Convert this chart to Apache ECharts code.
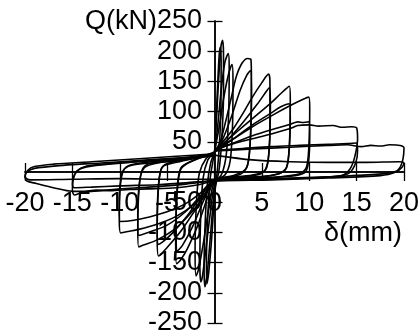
<!DOCTYPE html>
<html><head><meta charset="utf-8">
<script src="https://cdn.jsdelivr.net/npm/echarts@6/dist/echarts.min.js"></script>
<style>html,body{margin:0;padding:0;background:#fff}#c{width:419px;height:335px}</style>
</head><body><div id="c"></div>
<script>
const xTicks = [-20,-15,-10,-5,0,5,10,15,20];
const yTicks = [-250,-200,-150,-100,-50,0,50,100,150,200,250];
const xName = 'δ(mm)';
const yName = 'Q(kN)';

const c1 = [[0,30],[0.15,80],[0.35,150],[0.5,195],[0.62,207],[0.7,180],[0.68,110],[0.5,40],[0.25,-5],[0,-40],[-0.3,-110],[-0.6,-165],[-0.8,-185],[-0.85,-150],[-0.7,-70],[-0.45,-10],[-0.2,15],[0,30]];
const c2 = [[0,30],[0.25,100],[0.5,170],[0.7,210],[0.85,218],[0.95,195],[0.95,130],[0.75,50],[0.45,0],[0,-30],[-0.4,-100],[-0.75,-165],[-1.0,-190],[-1.1,-160],[-1.0,-90],[-0.75,-20],[-0.4,15],[0,32]];
const c3 = [[0,32],[0.3,70],[0.7,135],[1.1,182],[1.45,196],[1.55,172],[1.5,100],[1.25,30],[0.8,-2],[0,-22],[-0.5,-75],[-1.0,-140],[-1.3,-175],[-1.45,-182],[-1.55,-150],[-1.45,-70],[-1.2,-10],[-0.7,20],[0,33]];
const c4 = [[0,33],[0.5,75],[1.0,125],[1.5,163],[1.85,178],[1.95,150],[1.9,75],[1.65,18],[1.1,-5],[0,-16],[-0.6,-60],[-1.2,-120],[-1.7,-162],[-1.95,-172],[-2.05,-130],[-1.9,-50],[-1.6,-2],[-0.9,22],[0,33]];
const c5 = [[0,33],[0.6,50],[1.2,85],[1.8,125],[2.3,158],[2.9,180],[3.5,188],[3.85,186],[3.9,150],[3.8,60],[3.5,12],[2.8,-3],[1.4,-9],[0,-15],[-0.8,-45],[-1.8,-90],[-2.9,-128],[-3.6,-146],[-4.0,-152],[-4.1,-110],[-3.95,-35],[-3.6,3],[-2.9,14],[-1.5,24],[0,33]];
const c6 = [[0,33],[0.8,52],[1.8,92],[2.7,135],[3.4,160],[3.8,168],[3.9,125],[3.75,45],[3.35,6],[2,-6],[0,-13],[-1,-42],[-2.3,-90],[-3.4,-122],[-4,-132],[-4.05,-85],[-3.9,-20],[-3.5,8],[-2.2,19],[0,32]];
const c7 = [[0,34],[1,52],[2,72],[3,97],[4,124],[5,148],[5.7,162],[5.85,150],[5.85,70],[5.6,15],[5,-2],[3,-8],[0,-14],[-1,-38],[-2,-62],[-3.5,-97],[-5,-125],[-5.9,-139],[-6.05,-110],[-5.95,-35],[-5.65,4],[-5,14],[-3,21],[0,31]];
const c8 = [[0,33],[1.5,55],[3,82],[4.5,112],[5.5,134],[5.8,140],[5.9,110],[5.75,35],[5.4,4],[4,-5],[0,-13],[-1.5,-42],[-3,-75],[-4.5,-102],[-5.5,-116],[-6,-120],[-6.05,-80],[-5.9,-20],[-5.5,8],[-4,16],[0,30]];
const c9 = [[0,35],[1.5,55],[3,75],[4.5,95],[6,115],[7,130],[7.9,142],[8,120],[7.9,45],[7.6,8],[6.8,-3],[4,-9],[0,-14],[-1,-38],[-2.5,-68],[-4,-92],[-6,-112],[-7.5,-121],[-8,-124],[-8.1,-90],[-7.95,-25],[-7.6,5],[-6.8,14],[-4,20],[0,30]];
const c10 = [[0,33],[2,55],[4,78],[6,98],[7,108],[7.9,113],[8,90],[7.85,30],[7.5,4],[6,-6],[0,-14],[-1.5,-40],[-3,-65],[-5,-88],[-7,-100],[-8,-105],[-8.1,-70],[-7.9,-15],[-7.4,7],[-6,15],[0,29]];
const c11 = [[0,36],[2,55],[4,75],[6,93],[8,110],[9.3,120],[9.95,124],[10.05,105],[9.95,40],[9.7,8],[9,-3],[6,-9],[0,-14],[-1,-35],[-2,-52],[-4,-73],[-6,-86],[-8,-95],[-9.3,-99],[-9.9,-101],[-10.05,-80],[-9.95,-25],[-9.6,3],[-8.8,12],[-6,18],[0,28]];
const c12 = [[0,35],[2,48],[4,60],[6,70],[8,79],[8.8,83],[9.4,82],[9.95,83],[10.05,60],[9.95,20],[9.6,0],[8.5,-6],[5,-10],[0,-14],[-1.5,-35],[-3,-52],[-5,-66],[-7,-75],[-8.5,-80],[-9.95,-82],[-10.05,-55],[-9.9,-12],[-9.5,5],[-8.5,12],[-5,17],[0,27]];
const c13 = [[0,38],[2,47],[4,55],[6,63],[8,72],[8.8,77],[10,78],[11,76],[12.5,77],[13.5,74],[14.5,75],[15,73],[15.1,55],[14.8,25],[14.3,5],[13.4,-6],[10,-10],[5,-12],[0,-15],[-2,-22],[-4,-26],[-7,-28],[-9,-29],[-11,-31],[-12.5,-30],[-14,-34],[-14.8,-38],[-15,-30],[-14.9,-12],[-14.5,2],[-13.5,10],[-11,14],[-7,19],[-3,24],[0,30]];
const c14 = [[0,36],[3,39],[6,42],[9,44],[12,46],[14,47],[15,48],[15.1,35],[14.9,15],[14.2,-2],[13,-7],[8,-11],[0,-14],[-3,-18],[-6,-21],[-10,-23],[-13,-25],[-14.8,-26],[-15,-18],[-14.8,-5],[-14.2,5],[-12.5,11],[-8,17],[-3,23],[0,29]];
const c15 = [[0,35],[4,38],[8,41],[12,44],[14,45],[15.5,42],[16.5,44],[17.5,43],[18.5,45],[19.6,44],[20,40],[19.9,22],[19.6,8],[19,-1],[17.5,-6],[12,-10],[6,-13],[0,-15],[-3,-20],[-7,-25],[-10,-28],[-13,-32],[-15,-32],[-17,-26],[-18.8,-19],[-19.8,-15],[-20,-8],[-19.7,3],[-19,9],[-17,13],[-13,17],[-8,22],[-4,26],[0,30]];
const c16 = [[0,28],[4,20],[8,17],[12,16],[16,16],[19.5,17],[20,15],[19.8,8],[19.2,1],[17,-4],[12,-8],[6,-11],[0,-12],[-5,-12],[-10,-11],[-15,-12],[-19.5,-13],[-20,-8],[-19.8,0],[-19,6],[-16,11],[-12,15],[-7,20],[0,27]];
const cycles = [c1,c2,c3,c4,c5,c6,c7,c8,c9,c10,c11,c12,c13,c14,c15,c16];

const FONT = 'Liberation Sans, Arial, sans-serif';
const chart = echarts.init(document.getElementById('c'), null, {renderer:'canvas'});
const xMin = xTicks[0], xMax = xTicks[xTicks.length-1];
const yMin = yTicks[0], yMax = yTicks[yTicks.length-1];
const lbl = {color:'#000', fontSize:27, fontFamily:FONT};
const line = {show:true, onZero:true, lineStyle:{color:'#000', width:1.5}};
const tick = (len, inside) => ({show:true, length:len, inside:inside, lineStyle:{color:'#000', width:1.3}});
const gridRect = {left:25, right:15, top:21, bottom:12, outerBoundsMode:'none'};
chart.setOption({
  animation:false,
  grid:[Object.assign({}, gridRect), Object.assign({}, gridRect)],
  xAxis:[
    {gridIndex:0, type:'value', min:xMin, max:xMax, interval:5, axisLine:line, axisTick:tick(9,false),
     axisLabel:Object.assign({margin:-133}, lbl), splitLine:{show:false}},
    {gridIndex:1, type:'value', min:xMin, max:xMax, interval:5, axisLine:line, axisTick:tick(9,true),
     axisLabel:{show:false}, splitLine:{show:false}}
  ],
  yAxis:[
    {gridIndex:0, type:'value', min:yMin, max:yMax, interval:50, axisLine:line, axisTick:tick(7,false),
     axisLabel:Object.assign({margin:-177, formatter:v => v===0 ? '' : String(v)}, lbl), splitLine:{show:false}},
    {gridIndex:1, type:'value', min:yMin, max:yMax, interval:50, axisLine:line, axisTick:tick(8,true),
     axisLabel:{show:false}, splitLine:{show:false}}
  ],
  graphic:[
    {type:'text', x:157, y:22, style:{text:yName, fill:'#000', font:'27px '+FONT, textAlign:'right', textVerticalAlign:'middle'}},
    {type:'text', x:402, y:234, style:{text:xName, fill:'#000', font:'27px '+FONT, textAlign:'right', textVerticalAlign:'middle'}}
  ],
  series: cycles.map(d => ({type:'line', data:d, showSymbol:false, smooth:0.3, xAxisIndex:0, yAxisIndex:0,
    lineStyle:{color:'#000', width:1.6}, silent:true}))
});
</script></body></html>
